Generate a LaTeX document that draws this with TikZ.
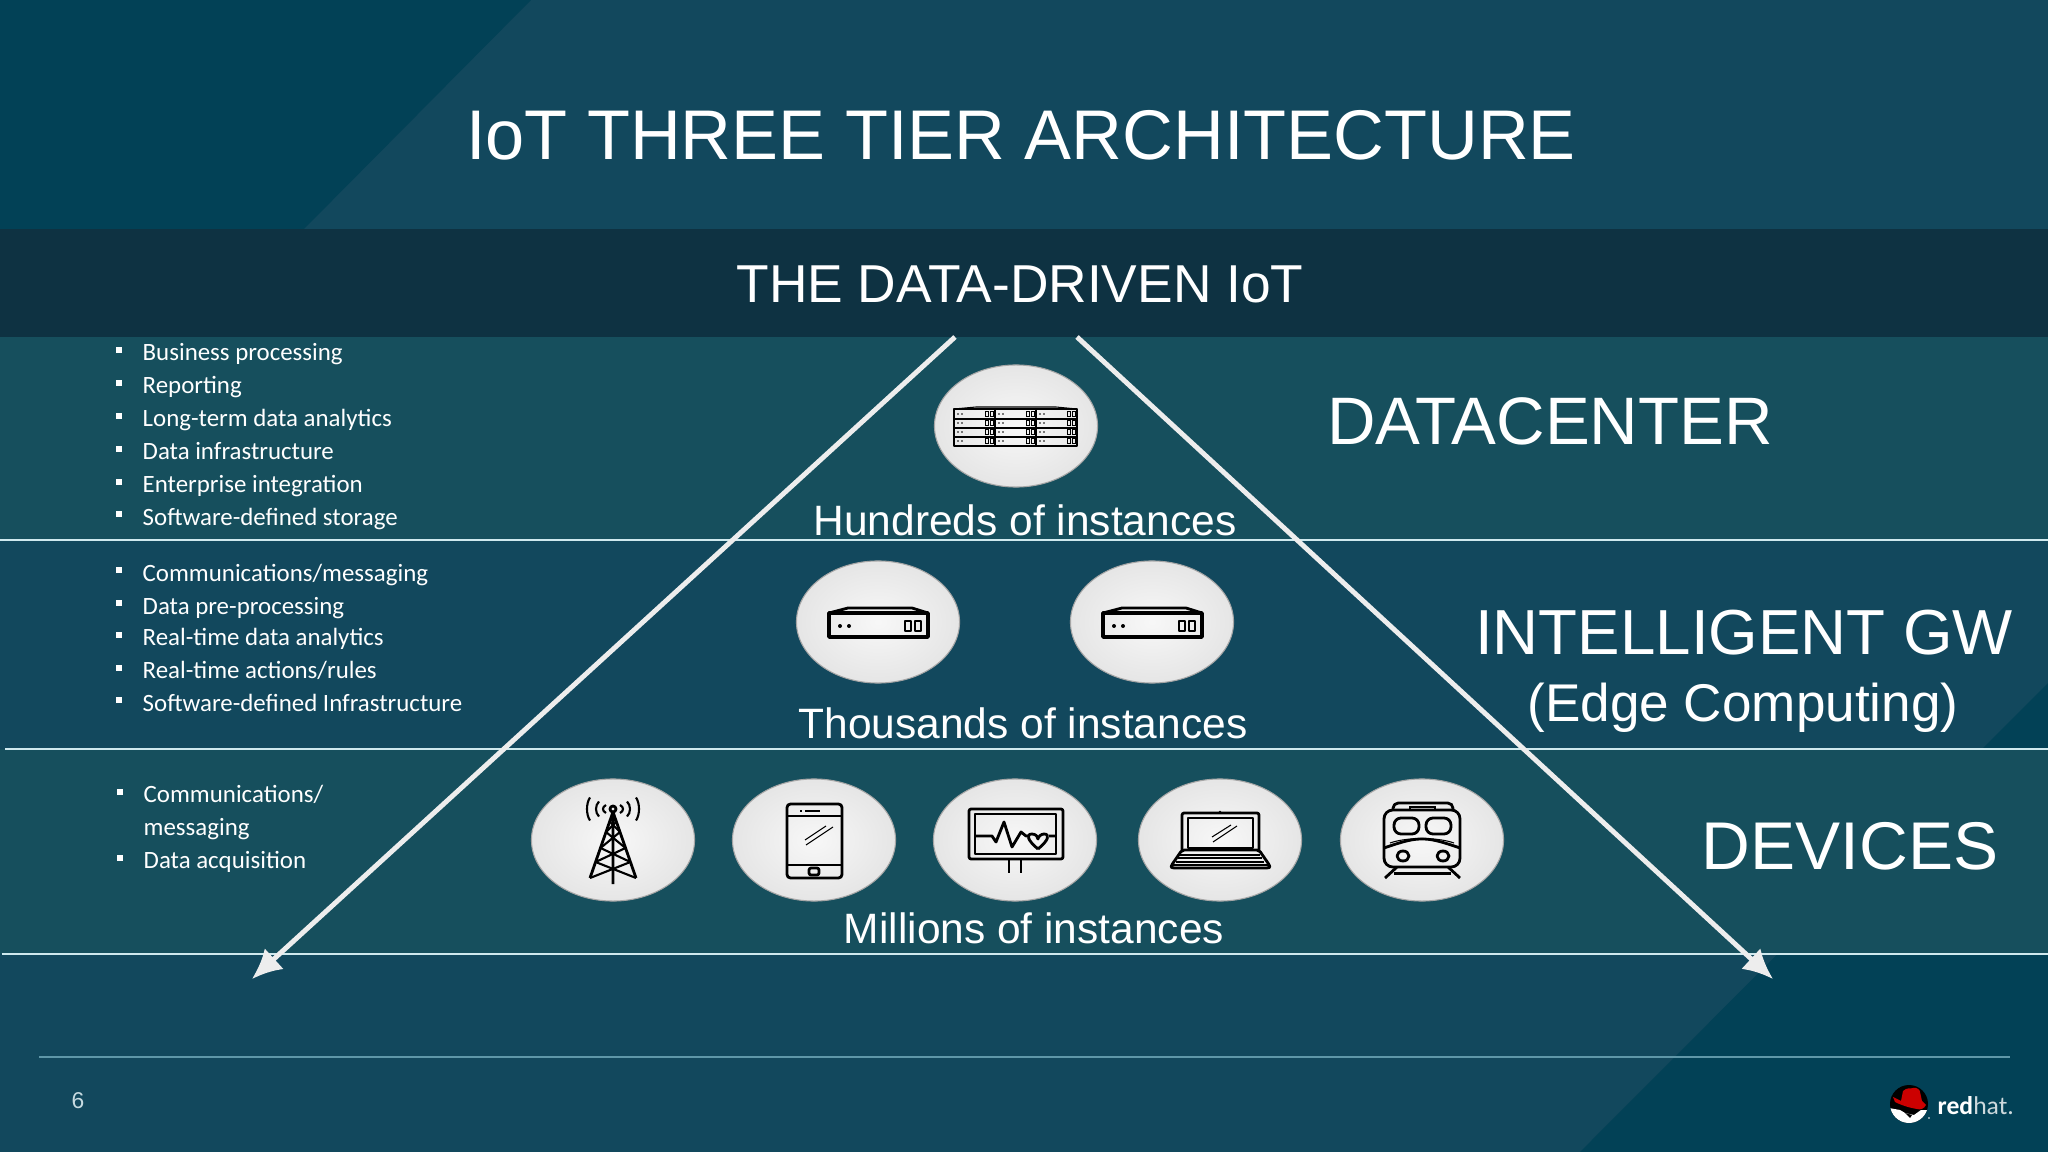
\documentclass[tikz,border=0pt]{standalone}
\usepackage{fontspec}
\setmainfont{Liberation Sans}
\newfontfamily\listfont{Carlito}
\usetikzlibrary{arrows.meta,shapes.geometric}

\definecolor{slatebg}{HTML}{12485D}
\definecolor{slatedark}{HTML}{024156}
\definecolor{bandbg}{HTML}{0E3242}
\definecolor{tierbg}{HTML}{164F5D}
\definecolor{rulecol}{HTML}{CFE9EE}
\definecolor{footcol}{HTML}{5F97A8}
\definecolor{hatred}{HTML}{CC0000}

\tikzset{
  bigtext/.style={text=white,anchor=base,inner sep=0pt},
  counttext/.style={bigtext,font=\fontsize{12.08}{14}\selectfont},
  listtext/.style={text=white,anchor=base west,inner sep=0pt,font=\listfont\fontsize{7.08}{9}\selectfont},
  listmark/.style={fill=white,minimum size=1.9pt,inner sep=0pt,rectangle},
  tierline/.style={draw=rulecol,line width=0.45pt},
  flowarrow/.style={draw=white!93!black,line width=1.4pt,-{Latex[length=8.5pt,width=8pt]}},
  bubble/.style={ellipse,minimum width=1.63cm,minimum height=1.22cm,inner sep=0pt,draw=gray!70,line width=0.3pt,shading=radial,inner color=white!97!black,outer color=black!10},
  iconline/.style={draw=black,line width=0.8pt,line join=round},
  thinline/.style={draw=black,line width=0.3pt},
  gwicon/.pic={
    \draw[iconline,line width=1pt] (-49,-9) rectangle (50,15);
    \draw[iconline] (-49,-9) -- (-30,-14) -- (34,-14) -- (50,-9);
    \fill (-38,4) circle[radius=2] (-29,4) circle[radius=2];
    \draw[iconline] (27,-1) rectangle (33,9) (37,-1) rectangle (43,9);
  },
  rackicon/.pic={
    \draw[iconline,line width=0.5pt] (-62,-17) rectangle (61,20);
    \draw[thinline] (-62,-17) -- (-40,-19) -- (40,-19) -- (61,-17);
    \foreach \yy in {-7,2,11} \draw[thinline] (-62,\yy) -- (61,\yy);
    \foreach \xx in {-62,-21,20} {
      \ifnum\xx>-62 \draw[iconline,line width=0.5pt] (\xx,-17) -- (\xx,20);\fi
      \foreach \yy in {-12,-3,6,15} {
        \fill (\xx+4,\yy) circle[radius=0.8] (\xx+8,\yy) circle[radius=0.8];
        \draw[thinline,line width=0.15pt] (\xx+31,\yy-2.5) rectangle (\xx+34,\yy+2.5) (\xx+36,\yy-2.5) rectangle (\xx+39,\yy+2.5);
      }
    }
  },
  towericon/.pic={
    \draw[iconline] (-23,38) -- (0,-28) -- (23,38) (0,-28) -- (0,44);
    \draw[iconline] (0,-31) circle[radius=3];
    \foreach \wa/\ya/\wb/\yb in {3/-18/7/-8,7/-8/12.5/8,12.5/8/17.4/22,17.4/22/23/38} {
      \draw[thinline,line width=0.6pt] (-\wa,\ya) -- (\wb,\yb) (\wa,\ya) -- (-\wb,\yb);
    }
    \foreach \rr/\hh in {10/4,17/7.5,26/11.5} {
      \draw[thinline,line width=0.6pt] (-\rr+3,-31-\hh) .. controls (-\rr-1,-31-\hh/2) and (-\rr-1,-31+\hh/2) .. (-\rr+3,-31+\hh);
      \draw[thinline,line width=0.6pt] (\rr-3,-31-\hh) .. controls (\rr+1,-31-\hh/2) and (\rr+1,-31+\hh/2) .. (\rr-3,-31+\hh);
    }
  },
  phoneicon/.pic={
    \draw[iconline,rounded corners=1pt] (-27,-36) rectangle (28,38);
    \draw[iconline] (-27,-24) -- (28,-24) (-27,25) -- (28,25);
    \draw[iconline] (-9,-29) -- (6,-29) (-14,-29) -- (-12,-29);
    \draw[iconline,rounded corners=0.6pt] (-5,28) rectangle (5,35);
    \draw[thinline] (-8,5) -- (19,-13) (-9,0) -- (12,-14);
  },
  monitoricon/.pic={
    \draw[iconline,rounded corners=0.6pt] (-46,-31) rectangle (48,19);
    \draw[iconline] (-40,-26) rectangle (41,14);
    \draw[iconline] (-6,19) -- (-6,33) (6,19) -- (6,33);
    \draw[iconline] (-40,-4) -- (-23,-4) -- (-19,2) -- (-11,-18) -- (-3,7) -- (6,-8) -- (11,-4) -- (13,-4) (34,-4) -- (41,-4);
    \draw[iconline] (23,9) .. controls (12,0) and (11,-6) .. (17,-6) .. controls (21,-6) and (23,-3) .. (23,-1) .. controls (23,-3) and (26,-6) .. (29,-6) .. controls (35,-6) and (34,0) .. (23,9);
  },
  laptopicon/.pic={
    \draw[iconline,rounded corners=0.6pt] (-38,10) -- (-38,-27) -- (39,-27) -- (39,10);
    \draw[iconline] (-32,-22) rectangle (33,8);
    \fill (0,-28) circle[radius=1.3];
    \draw[iconline,rounded corners=0.6pt] (-38,10) -- (39,10) -- (50,26) -- (49,28) -- (-48,28) -- (-49,26) -- cycle;
    \foreach \yy/\wd in {15/40,18/42,22/44} \draw[thinline] (-\wd,\yy) -- (\wd,\yy);
    \draw[thinline] (-47,25) -- (48,25);
    \draw[thinline] (-7,2) -- (17,-14) (-8,-3) -- (11,-15);
  },
  trainicon/.pic={
    \draw[iconline,rounded corners=2.5pt] (-38,27) -- (-38,-30) -- (38,-30) -- (38,27) -- cycle;
    \draw[iconline,rounded corners=1.5pt] (-29,-30) -- (-29,-37) -- (31,-37) -- (31,-30);
    \draw[thinline] (-12,-30) -- (-12,-33) -- (13,-33) -- (13,-30);
    \draw[iconline,rounded corners=2pt] (-28,-22) rectangle (-3,-6) (4,-22) rectangle (29,-6);
    \draw[iconline] (-38,8) .. controls (-15,0) and (-8,-1) .. (0,-1) .. controls (8,-1) and (15,0) .. (38,8);
    \draw[thinline] (-32,3) .. controls (-15,-3) and (15,-3) .. (32,3);
    \draw[iconline] (-19,16) circle[x radius=6,y radius=5] (21,16) circle[x radius=6,y radius=5];
    \fill (-28,32) rectangle (29,35);
    \draw[iconline] (-37,38) -- (-25,27) (38,38) -- (26,27);
  },
  redhatmark/.pic={
    \fill (0,0) circle[radius=19];
    \begin{scope}
      \clip (0,0) circle[radius=19];
      \fill[white] (-20,4) -- (-9,6) -- (-4,9) -- (5,11) -- (12,6) -- (20,6) -- (20,20) -- (-20,20) -- cycle;
      \fill[black] (-4,9) -- (3,11) -- (1,14) -- cycle;
    \end{scope}
    \fill[hatred] (-16,-7) -- (-8,-3) -- (-6,-13) .. controls (-2,-17) and (2,-15) .. (4,-16) .. controls (8,-17) and (11,-14) .. (11,-12) -- (13,-3) -- (17,1) .. controls (15,5) and (11,6) .. (8,5) .. controls (2,4) and (-6,2) .. (-14,-2) -- cycle;
    \fill[white] (20,14) circle[radius=0.9];
  },
}

\begin{document}
\begin{tikzpicture}[x=0.01cm,y=-0.01cm]
  \useasboundingbox (0,0) rectangle (2048,1152);
  % backdrop
  \fill[slatebg] (0,0) rectangle (2048,1152);
  \fill[slatedark] (0,0) -- (531,0) -- (304,229) -- (0,229) -- cycle;
  \fill[slatedark] (2048,683) -- (1580,1152) -- (2048,1152) -- cycle;
  \fill[tierbg] (0,337) rectangle (2048,540);
  \fill[tierbg] (0,749) rectangle (2048,954);
  \fill[bandbg] (0,229) rectangle (2048,337);

  % headings
  \node[bigtext,font=\fontsize{20}{24}\selectfont] (title) at (1021,160) {IoT THREE TIER ARCHITECTURE};
  \node[bigtext,font=\fontsize{15.17}{18}\selectfont] (subtitle) at (1020,303) {THE DATA-DRIVEN IoT};

  % tier rules
  \coordinate (ruleal) at (0,540);   \coordinate (rulear) at (2048,540);
  \coordinate (rulebl) at (5,749);   \coordinate (rulebr) at (2048,749);
  \coordinate (rulecl) at (2,954);   \coordinate (rulecr) at (2048,954);
  \coordinate (footl) at (39,1057);  \coordinate (footr) at (2010,1057);
  \draw[tierline] (ruleal) -- (rulear);
  \draw[tierline] (rulebl) -- (rulebr);
  \draw[tierline] (rulecl) -- (rulecr);
  \draw[draw=footcol,line width=0.35pt] (footl) -- (footr);

  % pyramid sides
  \coordinate (apexl) at (955,337);  \coordinate (tipl) at (252,979);
  \coordinate (apexr) at (1077,337); \coordinate (tipr) at (1773,979);
  \draw[flowarrow] (apexl) -- (tipl);
  \draw[flowarrow] (apexr) -- (tipr);

  % bubbles
  \node[bubble] (rack) at (1016,426) {};
  \node[bubble] (gwa) at (878,622) {};
  \node[bubble] (gwb) at (1152,622) {};
  \node[bubble] (tower) at (613,840) {};
  \node[bubble] (phone) at (814,840) {};
  \node[bubble] (monitor) at (1015,840) {};
  \node[bubble] (laptop) at (1220,840) {};
  \node[bubble] (train) at (1422,840) {};
  \pic at (rack) {rackicon};
  \pic at (gwa) {gwicon};
  \pic at (gwb) {gwicon};
  \pic at (tower) {towericon};
  \pic at (phone) {phoneicon};
  \pic at (monitor) {monitoricon};
  \pic at (laptop) {laptopicon};
  \pic at (train) {trainicon};

  % counts
  \node[counttext] (hundreds) at (1025,535) {Hundreds of instances};
  \node[counttext] (thousands) at (1023,738) {Thousands of instances};
  \node[counttext] (millions) at (1034,943) {Millions of instances};

  % tier names
  \node[bigtext,font=\fontsize{19.1}{22}\selectfont] (datacenter) at (1550,445) {DATACENTER};
  \node[bigtext,font=\fontsize{18.1}{22}\selectfont] (gateway) at (1744,655) {INTELLIGENT GW};
  \node[bigtext,font=\fontsize{15.1}{18}\selectfont] (edge) at (1743,721) {(Edge Computing)};
  \node[bigtext,font=\fontsize{19.2}{22}\selectfont] (devices) at (1850,869) {DEVICES};

  % lists
  \foreach \yy/\name in {361/Business processing,394/Reporting,427/Long-term data analytics,460/Data infrastructure,493/Enterprise integration,525/Software-defined storage,
      581/Communications\slash messaging,614/Data pre-processing,646/Real-time data analytics,679/Real-time actions\slash rules,711/Software-defined Infrastructure} {
    \node[listmark] at (119,\yy-11) {};
    \node[listtext] at (142,\yy) {\name};
  }
  \node[listmark] (marka) at (120,792) {};
  \node[listtext] (itema) at (143,802) {Communications/};
  \node[listtext] (itemb) at (143,835) {messaging};
  \node[listmark] (markb) at (120,858) {};
  \node[listtext] (itemc) at (143,868) {Data acquisition};

  % footer
  \node[text=white!65!footcol,inner sep=0pt,font=\fontsize{6.5}{8}\selectfont] (pagenum) at (78,1101) {6};
  \pic at (1909,1104) {redhatmark};
  \node[text=white,anchor=base west,inner sep=0pt,font=\listfont\fontsize{7.3}{10}\selectfont] (brand) at (1937,1114) {\textbf{red}\textcolor{white!80!slatedark}{hat.}};
\end{tikzpicture}
\end{document}
